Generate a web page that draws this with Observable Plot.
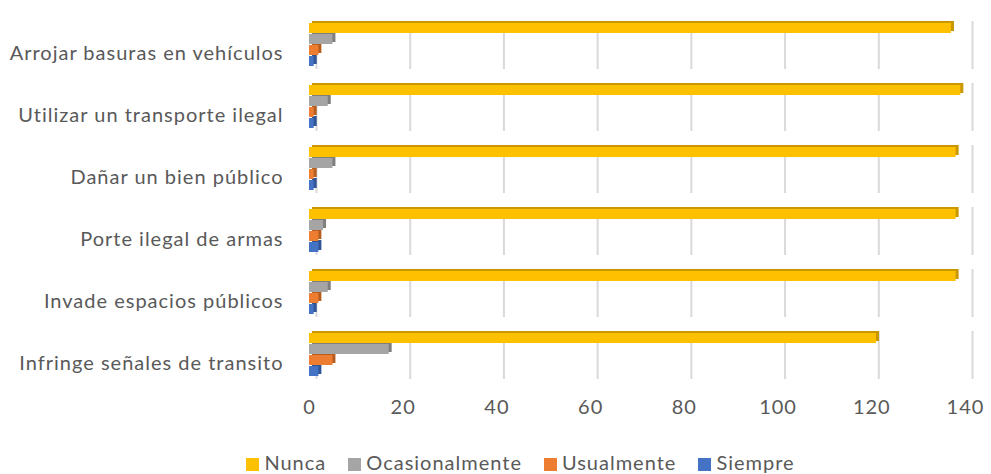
<!DOCTYPE html>
<html><head><meta charset="utf-8">
<script src="https://cdn.jsdelivr.net/npm/d3@7"></script>
<script src="https://cdn.jsdelivr.net/npm/@observablehq/plot@0.6"></script>
<style>
body{margin:0;background:#fff;font-family:Lato,"Open Sans",sans-serif;}
#legend{position:relative;display:flex;justify-content:center;gap:22px;font-size:20px;letter-spacing:1px;color:#595959;left:25px;margin-top:20px;line-height:24px}
#legend span.sw{display:inline-block;width:13px;height:13px;margin-right:5px;vertical-align:-1px}
</style></head><body>
<div id="chart"></div>
<div id="legend"></div>
<script>
const categories = ["Arrojar basuras en vehículos","Utilizar un transporte ilegal","Dañar un bien público","Porte ilegal de armas","Invade espacios públicos","Infringe señales de transito"];
const series = ["Nunca","Ocasionalmente","Usualmente","Siempre"];
const nunca = [137,139,138,138,138,121];
const ocasionalmente = [5,4,5,3,4,17];
const usualmente = [2,1,1,2,2,5];
const siempre = [1,1,1,2,1,2];
const colors = ["#FFC000","#A5A5A5","#ED7D31","#4472C4"];
const darkColors = ["#C99700","#7F7F7F","#B65E20","#2F5597"];
const xTicks = [0,20,40,60,80,100,120,140];

const values = [nunca, ocasionalmente, usualmente, siempre];
const data = [];
categories.forEach((c,i)=>series.forEach((s,j)=>data.push({category:c, series:s, value:values[j][i]})));

const chart = Plot.plot({
  width: 991, height: 430,
  marginLeft: 309, marginRight: 26, marginTop: 20, marginBottom: 50,
  style:{fontFamily:"Lato, 'Open Sans', sans-serif", color:"#595959", letterSpacing:"1px"},
  x:{domain:[0,140], ticks:xTicks, label:null},
  y:{domain:series, padding:0.08, axis:null},
  fy:{domain:categories, padding:0.22, label:null},
  color:{domain:series, range:colors},
  marks:[
    Plot.ruleX(xTicks,{dx:7, stroke:"#d9d9d9", strokeWidth:2, facetAnchor:null}),
    Plot.barX(data,{y:"series", fy:"category", x:"value", fill:d=>darkColors[series.indexOf(d.series)], dx:3, dy:-2}),
    Plot.barX(data,{y:"series", fy:"category", x:"value", fill:"series"}),
    Plot.axisX({ticks:xTicks, tickSize:0, tickPadding:20, fontSize:20, fill:"#595959", anchor:"bottom", facetAnchor:"bottom", label:null}),
    Plot.axisFy({anchor:"left", tickSize:0, tickPadding:26, fontSize:20, fill:"#595959", dy:8, label:null})
  ]
});
document.getElementById("chart").appendChild(chart);

const lg = document.getElementById("legend");
series.forEach((s,j)=>{
  const el = document.createElement("div");
  el.innerHTML = `<span class="sw" style="background:${colors[j]}"></span>${s}`;
  lg.appendChild(el);
});
</script></body></html>
